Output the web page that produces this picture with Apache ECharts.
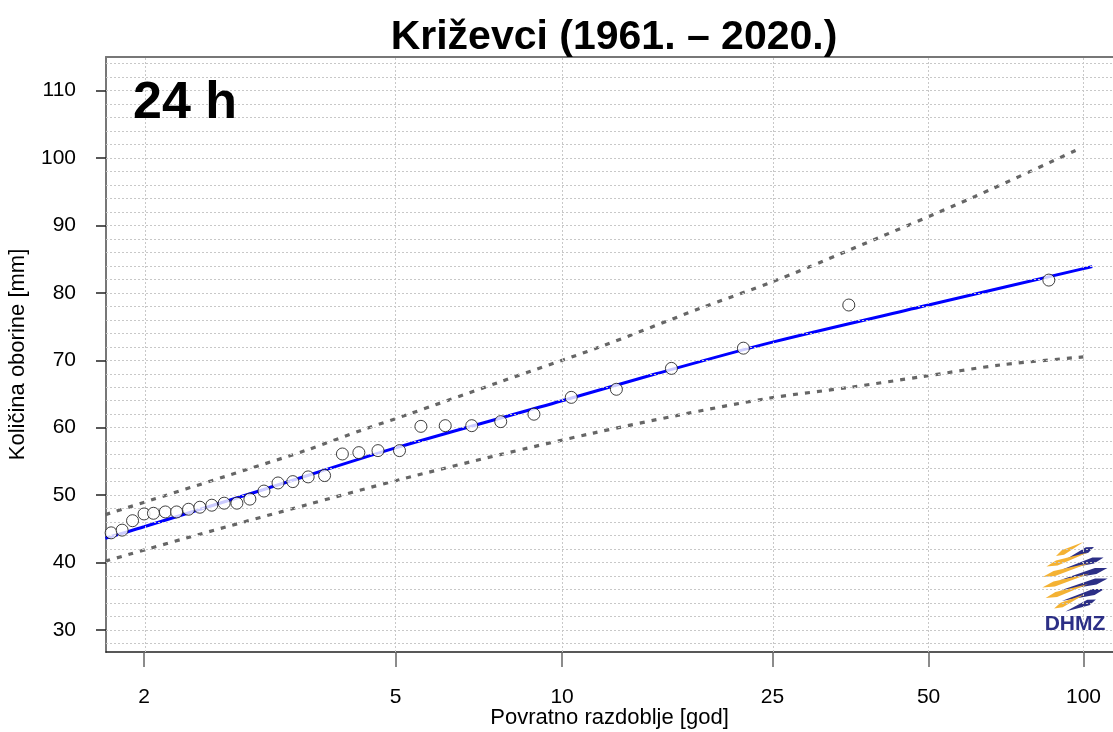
<!DOCTYPE html>
<html>
<head>
<meta charset="utf-8">
<script src="https://cdn.jsdelivr.net/npm/echarts@6/dist/echarts.min.js"></script>
<style>
  html, body { margin: 0; padding: 0; background: #fff; }
  #chart { width: 1113px; height: 732px; }
</style>
</head>
<body>
<div id="chart"></div>
<script>
// return periods (years) on the axis, and y labels
const tickYears = [2, 5, 10, 25, 50, 100];
const yTicks = [30, 40, 50, 60, 70, 80, 90, 100, 110];

// observed annual maxima (plotting positions)
const obsYears = [1.81, 1.87, 1.93, 2.00, 2.06, 2.14, 2.22, 2.31, 2.40, 2.50, 2.61, 2.73, 2.86,
  3.01, 3.17, 3.35, 3.55, 3.78, 4.05, 4.32, 4.66, 5.08, 5.54, 6.12, 6.83, 7.71, 8.87,
  10.40, 12.63, 16.04, 21.99, 35.05, 85.6];
const obsMm = [44.4, 44.8, 46.2, 47.2, 47.3, 47.5, 47.5, 47.9, 48.2, 48.5, 48.8, 48.8, 49.4,
  50.6, 51.8, 52.0, 52.7, 52.9, 56.1, 56.3, 56.6, 56.6, 60.2, 60.3, 60.3, 60.9, 62.0,
  64.5, 65.7, 68.8, 71.8, 78.2, 81.9];

// fitted distribution
const fitYears = [1.78, 2, 3, 5, 10, 15, 25, 50, 100, 104];
const fitMm = [43.6, 45.3, 50.8, 57.0, 64.0, 68.0, 72.7, 78.2, 83.6, 83.9];

// confidence band
const upYears = [1.78, 2.83, 3.51, 4.39, 5.23, 7.69, 11.77, 18.17, 25.1, 34.5, 61.5, 96.9];
const upMm = [47.1, 53.8, 56.6, 59.7, 61.9, 66.8, 72.0, 77.7, 81.7, 86.1, 94.3, 101.2];
const lowYears = [1.78, 2.40, 3.51, 5.09, 7.69, 11.43, 16.65, 24.7, 35.3, 48.8, 68.8, 99.9];
const lowMm = [40.2, 44.2, 48.5, 52.3, 56.0, 59.2, 61.9, 64.4, 66.0, 67.6, 69.3, 70.5];

// Gumbel reduced variate, used as the x scale
const gumbel = T => -Math.log(-Math.log(1 - 1 / T));
const pairs = (xs, ys) => xs.map((t, i) => [gumbel(t), ys[i]]);

const X_MIN = 0.195, X_MAX = 4.733;
const Y_MIN = 26.72, Y_MAX = 115.0;
const FONT = '"Liberation Sans", Arial, sans-serif';

const gridY = [];
for (let v = 28; v <= 114; v += 2) gridY.push({ yAxis: v });
const gridX = tickYears.map(t => ({ xAxis: gumbel(t) }));

// tapered stroke: thick near one end, sharp tip at the other
function wedge(x1, y1, x2, y2, w, thickAtStart) {
  const dx = x2 - x1, dy = y2 - y1, len = Math.sqrt(dx * dx + dy * dy);
  const nx = -dy / len, ny = dx / len;
  const f = thickAtStart ? 0.25 : 0.75;
  const mx = x1 + dx * f, my = y1 + dy * f;
  return [[x1, y1], [mx + nx * w, my + ny * w], [x2, y2], [mx - nx * w, my - ny * w]];
}

// DHMZ logo stripes
const logo = [];
const cx = 1075, cy = 577, r = 33;
for (let k = 0; k < 6; k++) {
  const dy = -27 + k * 10.5;
  const half = Math.sqrt(Math.max(r * r - dy * dy, 120));
  logo.push({
    type: 'polygon', shape: { points: wedge(cx - half, cy + dy + 6, cx + half * 0.45, cy + dy - 8, 2.6, true) },
    style: { fill: '#f4b233' }
  });
  logo.push({
    type: 'polygon', shape: { points: wedge(cx - half * 0.45, cy + dy + 9, cx + half, cy + dy - 3, 3, false) },
    style: { fill: '#2c2f86' }
  });
}

const chart = echarts.init(document.getElementById('chart'));
chart.setOption({
  animation: false,
  backgroundColor: '#fff',
  grid: { left: 106, right: 0, top: 57, bottom: 80, outerBoundsMode: 'none', containLabel: false },
  xAxis: [
    {
      type: 'value', min: X_MIN, max: X_MAX,
      name: 'Povratno razdoblje [god]', nameLocation: 'middle', nameGap: 55, nameMoveOverlap: false,
      nameTextStyle: { fontFamily: FONT, fontSize: 22, color: '#000' },
      axisLine: { show: true, onZero: false, lineStyle: { color: '#222', width: 1.5 } },
      axisTick: { show: true, length: 15, customValues: tickYears.map(gumbel), lineStyle: { color: '#666', width: 1.5 } },
      axisLabel: {
        show: true, margin: 35, fontFamily: FONT, fontSize: 21, color: '#000',
        customValues: tickYears.map(gumbel),
        formatter: v => {
          const t = tickYears.find(t => Math.abs(gumbel(t) - v) < 1e-6);
          return t === undefined ? '' : String(t);
        }
      },
      splitLine: { show: false }
    },
    {
      type: 'value', position: 'top', min: X_MIN, max: X_MAX,
      axisLine: { show: true, onZero: false, lineStyle: { color: '#777', width: 2 } },
      axisTick: { show: false }, axisLabel: { show: false }, splitLine: { show: false }
    }
  ],
  yAxis: {
    type: 'value', min: Y_MIN, max: Y_MAX,
    name: 'Količina oborine [mm]', nameLocation: 'middle', nameGap: 77, nameMoveOverlap: false,
    nameTextStyle: { fontFamily: FONT, fontSize: 22, color: '#000' },
    axisLine: { show: true, onZero: false, lineStyle: { color: '#777', width: 2 } },
    axisTick: { show: true, length: 10, customValues: yTicks, lineStyle: { color: '#222', width: 1.5 } },
    axisLabel: { show: true, margin: 30, fontFamily: FONT, fontSize: 21, color: '#000', customValues: yTicks },
    splitLine: { show: false }
  },
  graphic: [
    {
      type: 'text', x: 614, y: 38, z: 10,
      style: { text: 'Križevci (1961. – 2020.)', font: 'bold 41px ' + FONT, fill: '#000', align: 'center', verticalAlign: 'middle' }
    },
    {
      type: 'text', x: 133, y: 104, z: 10,
      style: { text: '24 h', font: 'bold 52px ' + FONT, fill: '#000', align: 'left', verticalAlign: 'middle' }
    },
    {
      type: 'text', x: 1075, y: 624, z: 10,
      style: { text: 'DHMZ', font: 'bold 21px ' + FONT, fill: '#2c2f86', align: 'center', verticalAlign: 'middle' }
    },
    { type: 'group', z: 10, children: logo }
  ],
  series: [
    {
      type: 'line', data: [], z: 1, silent: true,
      markLine: {
        silent: true, symbol: ['none', 'none'], label: { show: false }, animation: false,
        lineStyle: { color: '#c8c8c8', type: [2, 2], width: 1 },
        emphasis: { disabled: true },
        data: gridY.concat(gridX)
      }
    },
    {
      name: 'upper', type: 'line', smooth: 0.3, symbol: 'none', z: 3,
      lineStyle: { color: '#666', width: 3.2, type: [5, 7] },
      data: pairs(upYears, upMm)
    },
    {
      name: 'lower', type: 'line', smooth: 0.3, symbol: 'none', z: 3,
      lineStyle: { color: '#666', width: 3.2, type: [5, 7] },
      data: pairs(lowYears, lowMm)
    },
    {
      name: 'fit', type: 'line', smooth: 0.3, symbol: 'none', z: 4,
      lineStyle: { color: '#0000ff', width: 3 },
      data: pairs(fitYears, fitMm)
    },
    {
      name: 'observed', type: 'scatter', symbol: 'circle', symbolSize: 12, z: 5,
      itemStyle: { color: '#fff', borderColor: '#111', borderWidth: 1 },
      data: pairs(obsYears, obsMm)
    }
  ]
});
</script>
</body>
</html>
